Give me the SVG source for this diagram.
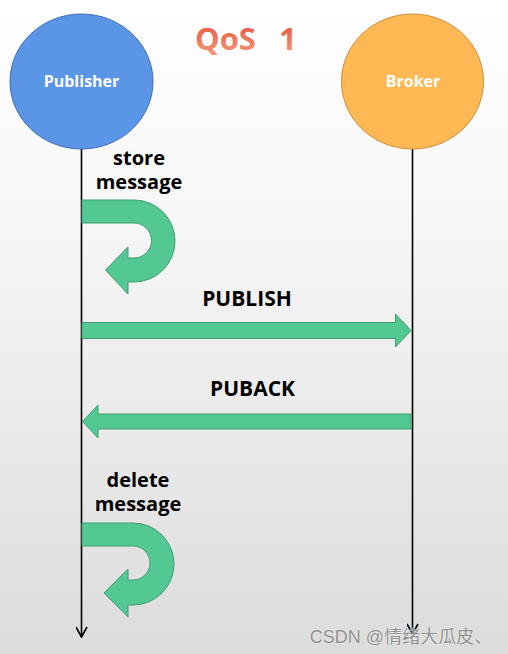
<svg xmlns="http://www.w3.org/2000/svg" width="508" height="654" viewBox="0 0 508 654">
<defs>
<linearGradient id="bg" x1="0" y1="0" x2="0" y2="1">
<stop offset="0" stop-color="#ffffff"/>
<stop offset="0.3" stop-color="#f8f8f8"/>
<stop offset="1" stop-color="#dcdcdc"/>
</linearGradient>
<linearGradient id="title" x1="0" y1="0" x2="0" y2="1">
<stop offset="0" stop-color="#e24a35"/>
<stop offset="1" stop-color="#f6a080"/>
</linearGradient>
<marker id="open" viewBox="0 0 12 12" refX="11" refY="6" markerWidth="12" markerHeight="12" markerUnits="userSpaceOnUse" orient="auto">
<path d="M1,0.5 L11,6 L1,11.5" fill="none" stroke="#000" stroke-width="1.6"/>
</marker>
</defs>
<style>
.lbl{font-family:"Open Sans","Noto Sans","Liberation Sans",sans-serif;font-weight:bold;fill:#000;text-anchor:middle}
.node{font-family:"Open Sans","Noto Sans","Liberation Sans",sans-serif;font-weight:bold;fill:#fff;font-size:16px;text-anchor:middle}
.arr{fill:#54c892;stroke:#3d9f6f;stroke-width:1}
.life{stroke:#000;stroke-width:1.6;fill:none}
</style>
<rect x="0" y="0" width="508" height="654" fill="url(#bg)"/>
<text x="195" y="50" font-family="'Open Sans','Noto Sans',sans-serif" font-weight="bold" font-size="31" fill="url(#title)">QoS<tspan x="279">1</tspan></text>
<g id="connectors">
<line class="life" x1="81.5" y1="149" x2="81.5" y2="637" marker-end="url(#open)"/>
<line class="life" x1="412.5" y1="149" x2="412.5" y2="634" marker-end="url(#open)"/>
<path class="arr" d="M82,200 L134,200 A41,41 0 0 1 134,282 L128,282 L128,294 L105.5,270 L128,247 L128,258 L134,258 A17.5,17.5 0 0 0 134,223 L82,223 Z"/>
<path class="arr" d="M82,322.5 L395.5,322.5 L395.5,314 L411,330.5 L395.5,347 L395.5,338.5 L82,338.5 Z"/>
<path class="arr" d="M411,414 L98,414 L98,405 L82.5,421.5 L98,438 L98,429 L411,429 Z"/>
<path class="arr" d="M82,523 L133,523 A41,41 0 0 1 133,605 L128,605 L128,617 L104,593 L128,569 L128,580 L133,580 A17,17 0 0 0 133,546 L82,546 Z"/>
<text class="lbl" x="139" y="165" font-size="20">store<tspan x="139" y="189">message</tspan></text>
<text class="lbl" x="247" y="306" font-size="21">PUBLISH</text>
<text class="lbl" x="252.5" y="396" font-size="21">PUBACK</text>
<text class="lbl" x="138" y="487" font-size="20">delete<tspan x="138" y="511">message</tspan></text>
</g>
<g id="publisher">
<ellipse cx="81.5" cy="81.5" rx="71.5" ry="67.5" fill="#5b95e6" stroke="#3d6dbd" stroke-width="1"/>
<text class="node" x="81.5" y="87">Publisher</text>
</g>
<g id="broker">
<ellipse cx="412.5" cy="81.5" rx="71" ry="67.5" fill="#ffb854" stroke="#cf8d38" stroke-width="1"/>
<text class="node" x="413" y="87">Broker</text>
</g>
<text x="401" y="643" font-family="'Liberation Sans','Noto Sans CJK SC',sans-serif" font-size="18" fill="#8f8f8f" stroke="#ffffff" stroke-width="0.6" paint-order="stroke" text-anchor="middle">CSDN @情绪大瓜皮、</text>
</svg>
